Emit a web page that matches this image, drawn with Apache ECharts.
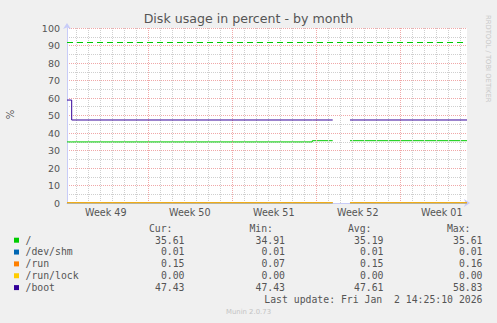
<!DOCTYPE html>
<html>
<head>
<meta charset="utf-8">
<script src="https://cdn.jsdelivr.net/npm/echarts@6/dist/echarts.min.js"></script>
<style>
html,body{margin:0;padding:0;background:#f0f0f0;}
#c{width:497px;height:323px;}
</style>
</head>
<body>
<div id="c"></div>
<script>
// ---- data (x in days since Sun 30 Nov 2025 00:00) ----
var xStart = 0.2674;           // Sun 30 Nov 06:25
var xEnd = 33.6007;            // Fri 2 Jan 14:25
// time of each sample (value holds until the next time); null = no data
var times   = [0.2674, 0.659, 20.71, 22.41, 22.42, 23.85, 33.6007];
var rootVal = [34.91, 34.91, 35.61, 35.61, null, 35.61, 35.61];
var shmVal  = [0.01, 0.01, 0.01, 0.01, null, 0.01, 0.01];
var runVal  = [0.15, 0.15, 0.15, 0.15, null, 0.15, 0.15];
var lockVal = [0.00, 0.00, 0.00, 0.00, null, 0.00, 0.00];
var bootVal = [58.83, 47.43, 47.43, 47.43, null, 47.43, 47.43];
var warning = 92;

var weekBounds = [7, 14, 21, 28];
var weekLabelPos = [3.5, 10.5, 17.5, 24.5, 31.5];
var weekLabels = ['Week 49', 'Week 50', 'Week 51', 'Week 52', 'Week 01'];
var dayTicks = [];
for (var d = 1; d <= 33; d++) if (weekBounds.indexOf(d) < 0) dayTicks.push(d);

var names = ['/', '/dev/shm', '/run', '/run/lock', '/boot'];
var colors = ['#00cc00', '#0066b3', '#ff8000', '#ffcc00', '#330099'];
var curV = [35.61, 0.01, 0.15, 0.00, 47.43];
var minV = [34.91, 0.01, 0.07, 0.00, 47.43];
var avgV = [35.19, 0.01, 0.15, 0.00, 47.61];
var maxV = [35.61, 0.01, 0.16, 0.00, 58.83];
var seriesVals = [rootVal, shmVal, runVal, lockVal, bootVal];
var lastUpdate = 'Last update: Fri Jan  2 14:25:10 2026';

// step-hold path: each value is held until the next sample time
function stepPath(vals) {
  var out = [];
  for (var i = 0; i < times.length; i++) {
    var v = vals[i];
    if (v === null) { out.push([times[i], '-']); continue; }
    out.push([times[i], v]);
    if (i + 1 < times.length && vals[i + 1] !== null && vals[i + 1] !== v) {
      out.push([times[i + 1], v]);
    }
  }
  return out;
}

var chart = echarts.init(document.getElementById('c'), null, {renderer: 'svg'});

var mono = '9.8px "DejaVu Sans Mono"';
var txt = '#555555';
var graphics = [];
var colRight = [184.5, 285, 383.5, 482.5];
var headRight = [172.5, 273, 371.5, 470.5];
var heads = ['Cur:', 'Min:', 'Avg:', 'Max:'];
var rowY0 = 240, rowStep = 11.85;
heads.forEach(function (h, j) {
  graphics.push({type: 'text', x: headRight[j], y: 228.4,
    style: {text: h, font: mono, fill: txt, align: 'right', verticalAlign: 'middle'}});
});
names.forEach(function (n, i) {
  var y = rowY0 + i * rowStep;
  graphics.push({type: 'rect', shape: {x: 14, y: y - 2.3, width: 5, height: 5}, style: {fill: colors[i]}});
  graphics.push({type: 'text', x: 25.5, y: y,
    style: {text: n, font: mono, fill: txt, align: 'left', verticalAlign: 'middle'}});
  [curV, minV, avgV, maxV].forEach(function (arr, j) {
    graphics.push({type: 'text', x: colRight[j], y: y,
      style: {text: arr[i].toFixed(2), font: mono, fill: txt, align: 'right', verticalAlign: 'middle'}});
  });
});
graphics.push({type: 'text', x: 482.5, y: 299.3,
  style: {text: lastUpdate, font: mono, fill: txt, align: 'right', verticalAlign: 'middle'}});
graphics.push({type: 'text', x: 248.5, y: 312.3,
  style: {text: 'Munin 2.0.73', font: '6.9px "DejaVu Sans"', fill: '#c4c4c4', align: 'center', verticalAlign: 'middle'}});
graphics.push({type: 'text', x: 488, y: 15, rotation: -Math.PI / 2,
  style: {text: 'RRDTOOL / TOBI OETIKER', font: '6.8px "DejaVu Sans"', fill: '#c8c8c8', align: 'left', verticalAlign: 'middle'}});
graphics.push({type: 'text', x: 10.5, y: 114.5, rotation: Math.PI / 2,
  style: {text: '%', font: '10px "DejaVu Sans"', fill: txt, align: 'center', verticalAlign: 'middle'}});

var gridGray = '#cfcfcf', gridRed = '#f0a8a8';
var series = [{
  name: 'grid', type: 'line', data: [], silent: true, z: 1,
  markLine: {
    silent: true, symbol: ['none', 'none'], label: {show: false}, animation: false,
    data: dayTicks.map(function (d) {
      return {xAxis: d, lineStyle: {color: gridGray, type: [1, 1], width: 1}};
    }).concat(weekBounds.map(function (d) {
      return {xAxis: d, lineStyle: {color: gridRed, type: [1, 1], width: 1}};
    }))
  }
}];
names.forEach(function (n, i) {
  var s = {
    name: n, type: 'line', data: stepPath(seriesVals[i]),
    showSymbol: false, symbol: 'none', connectNulls: false,
    lineStyle: {color: colors[i], width: 1}, z: 3 + i, silent: true
  };
  if (i === 0) {
    s.markLine = {
      silent: true, symbol: ['none', 'none'], label: {show: false},
      lineStyle: {color: '#00cc00', type: [6, 4], width: 1},
      data: [{yAxis: warning}]
    };
  }
  series.push(s);
});

chart.setOption({
  animation: false,
  backgroundColor: '#f0f0f0',
  title: {
    text: 'Disk usage in percent - by month', left: 'center', top: 12, padding: 0,
    textStyle: {fontFamily: 'DejaVu Sans', fontSize: 12.6, fontWeight: 'normal', color: '#555555'}
  },
  grid: {left: 67, right: 30, top: 28, bottom: 120, show: true, backgroundColor: '#ffffff', borderWidth: 0,
    containLabel: false, outerBoundsMode: 'none'},
  xAxis: {
    type: 'value', min: xStart, max: xEnd,
    axisLine: {show: true, lineStyle: {color: '#c8ccf8', width: 1}, symbol: ['none', 'arrow'], symbolSize: [6, 6], symbolOffset: [0, 3]},
    axisTick: {show: false},
    axisLabel: {customValues: weekLabelPos, fontFamily: 'DejaVu Sans', fontSize: 9.6, color: '#555555', margin: 4,
      formatter: function (v) { var k = weekLabelPos.indexOf(v); return k >= 0 ? weekLabels[k] : ''; }},
    splitLine: {show: false}
  },
  yAxis: {
    type: 'value', min: 0, max: 100, interval: 10,
    axisLine: {show: true, lineStyle: {color: '#c8ccf8', width: 1}, symbol: ['none', 'arrow'], symbolSize: [6, 6], symbolOffset: [0, 5]},
    axisTick: {show: false},
    axisLabel: {fontFamily: 'DejaVu Sans', fontSize: 9.5, color: '#555555', margin: 7},
    splitLine: {show: true, lineStyle: {color: gridRed, type: [1, 1], width: 1}},
    minorTick: {show: false, splitNumber: 2},
    minorSplitLine: {show: true, lineStyle: {color: gridGray, type: [1, 1], width: 1}}
  },
  graphic: graphics,
  series: series
});
</script>
</body>
</html>
